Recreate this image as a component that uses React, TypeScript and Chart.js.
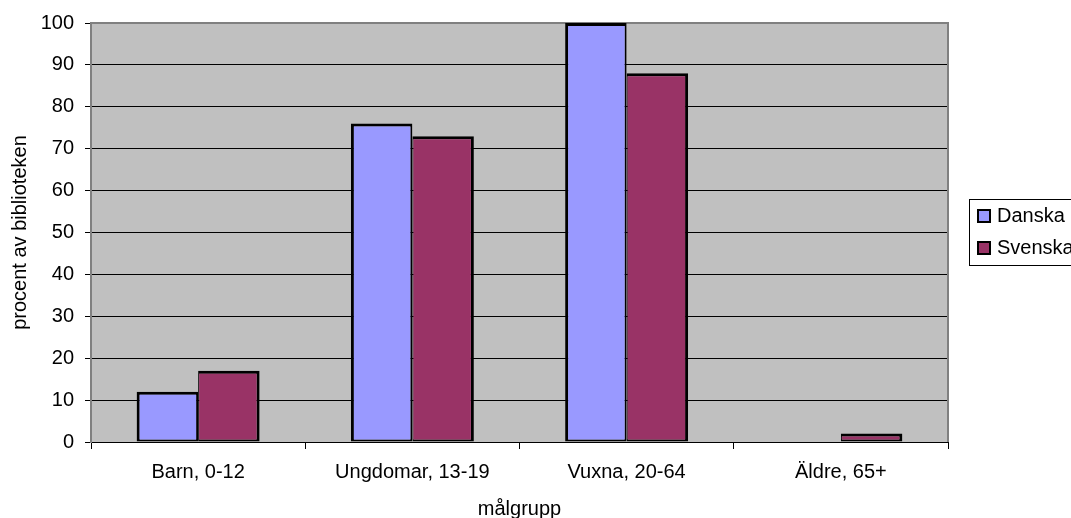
import React, { useEffect, useRef } from "react";
import { Chart, registerables } from "chart.js";

Chart.register(...registerables);

const categories = ["Barn, 0-12", "Ungdomar, 13-19", "Vuxna, 20-64", "Äldre, 65+"];
const danskaValues = [12, 76, 100, 0];
const svenskaValues = [17, 73, 88, 2];
const seriesNames = ["Danska", "Svenska"];
const seriesColors = ["#9999FF", "#993366"];
const yMin = 0;
const yMax = 100;
const yStep = 10;
const xTitle = "målgrupp";
const yTitle = "procent av biblioteken";

const FONT = '"Liberation Sans", Arial, sans-serif';

const plotBg = {
  id: "plotBg",
  beforeDraw(chart: any) {
    const { ctx, chartArea: a } = chart;
    ctx.save();
    ctx.fillStyle = "#C0C0C0";
    ctx.fillRect(a.left, a.top, a.right - a.left, a.bottom - a.top);
    ctx.restore();
  },
  beforeDatasetsDraw(chart: any) {
    const { ctx, chartArea: a } = chart;
    ctx.save();
    ctx.strokeStyle = "#808080";
    ctx.lineWidth = 2;
    ctx.beginPath();
    ctx.moveTo(a.left, a.top);
    ctx.lineTo(a.right, a.top);
    ctx.lineTo(a.right, a.bottom);
    ctx.stroke();
    ctx.restore();
  },
};

const boxLegend = {
  id: "boxLegend",
  afterDraw(chart: any) {
    const ctx = chart.ctx;
    ctx.save();
    ctx.strokeStyle = "#000";
    ctx.lineWidth = 1;
    ctx.strokeRect(969.5, 199.5, 130, 66);
    chart.data.datasets.forEach((ds: any, i: number) => {
      const cy = 216 + i * 32;
      ctx.fillStyle = ds.backgroundColor;
      ctx.fillRect(977, cy - 7, 14, 14);
      ctx.lineWidth = 2;
      ctx.strokeStyle = "#000";
      ctx.strokeRect(978, cy - 6, 12, 12);
      ctx.fillStyle = "#000";
      ctx.font = `20px ${FONT}`;
      ctx.textBaseline = "middle";
      ctx.textAlign = "left";
      ctx.fillText(ds.label, 997, cy);
    });
    ctx.restore();
  },
};

export default function App() {
  const ref = useRef<HTMLCanvasElement | null>(null);

  useEffect(() => {
    if (!ref.current) return;
    Chart.defaults.font.family = FONT;
    const chart = new Chart(ref.current, {
      type: "bar",
      data: {
        labels: categories,
        datasets: [
          {
            label: seriesNames[0],
            data: danskaValues,
            backgroundColor: seriesColors[0],
            borderColor: "#000",
            borderWidth: { top: 3, bottom: 2, left: 3, right: 2 },
            borderSkipped: false,
          },
          {
            label: seriesNames[1],
            data: svenskaValues,
            backgroundColor: seriesColors[1],
            borderColor: "#000",
            borderWidth: { top: 3, bottom: 2, left: 1, right: 3 },
            borderSkipped: false,
          },
        ],
      },
      options: {
        animation: false,
        responsive: false,
        devicePixelRatio: 1,
        datasets: { bar: { categoryPercentage: 0.574, barPercentage: 1 } },
        layout: { padding: { top: 23, right: 123, left: 0, bottom: 0 } },
        plugins: { legend: { display: false }, tooltip: { enabled: false } },
        scales: {
          x: {
            grid: {
              display: true,
              drawOnChartArea: false,
              drawTicks: true,
              tickLength: 7,
              color: "#000",
              tickColor: "#000",
              offset: true,
            },
            border: { display: true, color: "#000", width: 1 },
            ticks: { font: { size: 20 }, color: "#000", padding: 11, maxRotation: 0, autoSkip: false },
            title: {
              display: true,
              text: xTitle,
              font: { size: 20, lineHeight: 0.9 },
              color: "#000",
              padding: { top: 0, bottom: 0 },
            },
            afterFit(scale: any) {
              scale.height = 76;
            },
          },
          y: {
            min: yMin,
            max: yMax,
            ticks: { stepSize: yStep, font: { size: 20 }, color: "#000", padding: 11 },
            grid: {
              color: (c: any) => (c.tick && c.tick.value === yMax ? "rgba(0,0,0,0)" : "#000"),
              tickColor: "#000",
              lineWidth: 1,
              tickLength: 6,
              drawTicks: true,
            },
            border: { color: "#808080", width: 2 },
            title: {
              display: true,
              text: yTitle,
              font: { size: 20, lineHeight: 1.2 },
              color: "#000",
              padding: { top: 8, bottom: 0 },
            },
            afterFit(scale: any) {
              scale.width = 91;
            },
          },
        },
      },
      plugins: [plotBg, boxLegend],
    } as any);
    return () => chart.destroy();
  }, []);

  return (
    <div style={{ position: "fixed", left: 0, top: 0, width: 1071, height: 518, background: "#fff" }}>
      <canvas ref={ref} width={1071} height={518} style={{ display: "block" }} />
    </div>
  );
}
